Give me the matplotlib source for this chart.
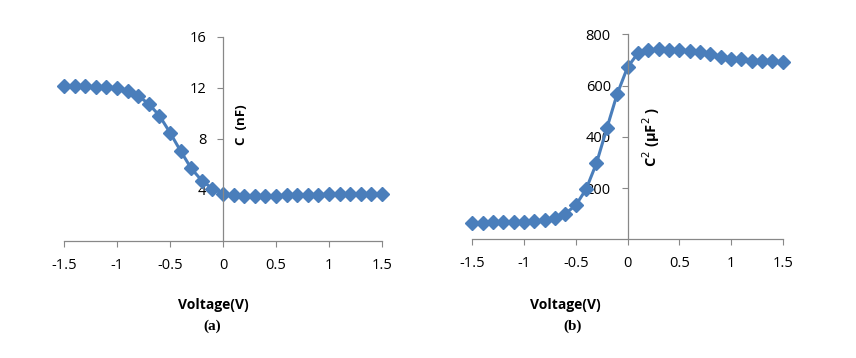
import numpy as np
import matplotlib.pyplot as plt

# Données
voltage = np.round(np.arange(-1.5, 1.51, 0.1), 1)
cap_nf = [12.17, 12.14, 12.10, 12.08, 12.05, 11.98, 11.78, 11.38, 10.73, 9.82,
          8.49, 7.05, 5.69, 4.73, 4.10, 3.71, 3.58, 3.55, 3.55, 3.55,
          3.55, 3.58, 3.60, 3.60, 3.63, 3.66, 3.66, 3.68, 3.68, 3.68, 3.68]
cap_sq = [65, 65, 66, 66, 66, 68, 70, 75, 83, 101,
          133, 196, 297, 433, 567, 671, 726, 739, 741, 740,
          738, 734, 730, 722, 713, 702, 705, 697, 697, 695, 692]
xticks = [-1.5, -1, -0.5, 0, 0.5, 1, 1.5]
xtick_labels = ["-1.5", "-1", "-0.5", "0", "0.5", "1", "1.5"]
yticks_a = [4, 8, 12, 16]
yticks_b = [200, 400, 600, 800]

bleu = "#4A7EBB"
gris = "#888888"
police = "Open Sans"

fig = plt.figure(figsize=(8.56, 3.58), dpi=100)
ax1 = fig.add_axes([64 / 856, 1 - 241 / 358, 318 / 856, 204.3 / 358])
ax2 = fig.add_axes([472.3 / 856, 1 - 239.4 / 358, 310.4 / 856, 205.1 / 358])


def mise_en_forme(ax, yticks, ymax):
    ax.set_xlim(-1.5, 1.5)
    ax.set_ylim(0, ymax)
    ax.spines["left"].set_position(("data", 0))
    ax.spines["top"].set_visible(False)
    ax.spines["right"].set_visible(False)
    for s in ("left", "bottom"):
        ax.spines[s].set_color(gris)
        ax.spines[s].set_linewidth(0.9)
    ax.set_xticks(xticks)
    ax.set_xticklabels(xtick_labels, fontfamily=police, fontsize=10.5)
    ax.set_yticks(yticks)
    ax.set_yticklabels([str(v) for v in yticks], fontfamily=police, fontsize=10.5)
    ax.tick_params(axis="both", direction="out", length=4, color=gris, pad=8)
    ax.patch.set_alpha(0)


ax1.plot(voltage, cap_nf, color=bleu, lw=2.2, marker="D", ms=7.5, clip_on=False)
mise_en_forme(ax1, yticks_a, 16)
ax1.text(0.17, 9.1, "C  (nF)", rotation=90, fontfamily=police, fontweight="bold",
         fontsize=9.5, ha="center", va="center")

ax2.plot(voltage, cap_sq, color=bleu, lw=2.2, marker="D", ms=7.5, clip_on=False)
mise_en_forme(ax2, yticks_b, 800)
ax2.text(0.23, 400, "C$^{2}$ (µF$^{2}$ )", rotation=90, fontfamily=police,
         fontweight="bold", fontsize=10.5, ha="center", va="center")

fig.text(213 / 856, 1 - 305 / 358, "Voltage(V)", fontfamily=police, fontweight="bold",
         fontsize=10, ha="center", va="center")
fig.text(565 / 856, 1 - 305 / 358, "Voltage(V)", fontfamily=police, fontweight="bold",
         fontsize=10, ha="center", va="center")
fig.text(212 / 856, 1 - 326 / 358, "(a)", fontfamily="Liberation Serif", fontweight="bold",
         fontsize=11, ha="center", va="center")
fig.text(573 / 856, 1 - 326 / 358, "(b)", fontfamily="Liberation Serif", fontweight="bold",
         fontsize=11, ha="center", va="center")

fig.savefig("out.png", dpi=100)
